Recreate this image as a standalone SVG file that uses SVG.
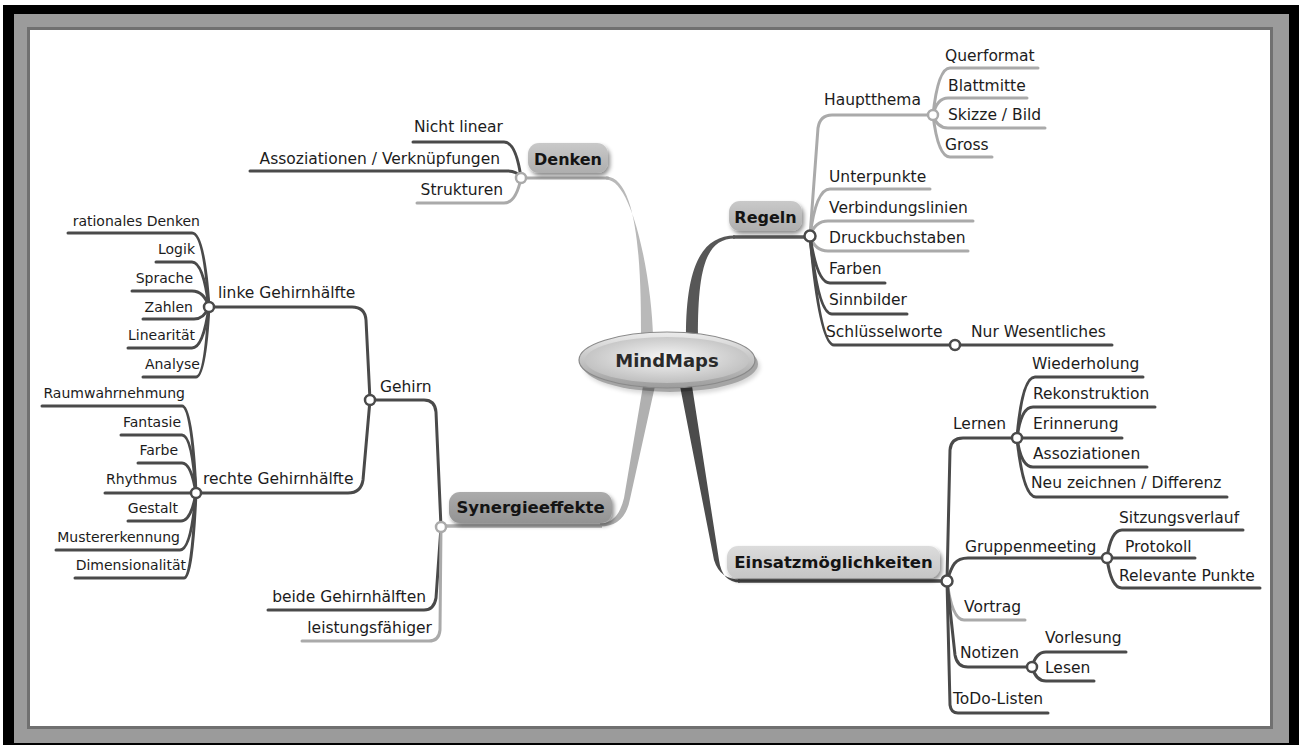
<svg xmlns="http://www.w3.org/2000/svg" width="1303" height="745" viewBox="0 0 1303 745">
<defs>
<style>
.t{font-family:"DejaVu Sans",Verdana,sans-serif;font-size:15.5px;fill:#1c1c1c}
.s{font-size:14px}
.e{text-anchor:end}
.m{text-anchor:middle}
.b{font-weight:bold;font-size:16.5px;fill:#141414}
.dk{fill:none;stroke:#4a4a4a;stroke-width:3;stroke-linecap:round}
.lt{fill:none;stroke:#aaaaaa;stroke-width:3;stroke-linecap:round}
.cd{fill:#fff;stroke:#4a4a4a;stroke-width:2.5}
.cl{fill:#fff;stroke:#aaaaaa;stroke-width:2.5}
.box{filter:url(#sh)}
</style>
<filter id="sh" x="-20%" y="-30%" width="140%" height="170%">
<feDropShadow dx="2" dy="3" stdDeviation="2" flood-color="#000" flood-opacity="0.45"/>
</filter>
<linearGradient id="gb" x1="0" y1="0" x2="0" y2="1">
<stop offset="0" stop-color="#c9c9c9"/><stop offset="1" stop-color="#aeaeae"/>
</linearGradient>
<linearGradient id="gs" x1="0" y1="0" x2="0" y2="1">
<stop offset="0" stop-color="#ababab"/><stop offset="1" stop-color="#939393"/>
</linearGradient>
<linearGradient id="ge" x1="0" y1="0" x2="0" y2="1">
<stop offset="0" stop-color="#dcdcdc"/><stop offset="1" stop-color="#c6c6c6"/>
</linearGradient>
<linearGradient id="rim" x1="0" y1="0" x2="0" y2="1">
<stop offset="0" stop-color="#ececec"/><stop offset="1" stop-color="#9c9c9c"/>
</linearGradient>
<radialGradient id="core" cx="0.5" cy="0.45" r="0.6">
<stop offset="0" stop-color="#f6f6f6"/><stop offset="1" stop-color="#bababa"/>
</radialGradient>
</defs>

<g id="frame">
<rect x="3" y="5" width="1296" height="745" fill="#000"/>
<rect x="14" y="14" width="1275" height="729" fill="#9b9b9b"/>
<rect x="28.5" y="28.5" width="1243" height="699" fill="#fff" stroke="#707070" stroke-width="3"/>
</g>

<g id="connectors">
<!-- main branches -->
<path d="M641,336 C641,280 640,177 606,176.5 L606,179.5 C634,179.5 652,285 653,336 Z" fill="#b9b9b9"/>
<path d="M521,178 H608" class="lt"/>
<path d="M686,336 C686,270 700,235.5 735,235.5 L735,238.5 C705,238.5 698,270 698,336 Z" fill="#575757"/>
<path d="M733,237 H810" fill="none" stroke="#575757" stroke-width="3.5"/>
<path d="M643,386 L624,498 Q618,523.5 600,523.5 L600,526.5 Q625,526.5 630,499 L655,386 Z" fill="#b0b0b0"/>
<path d="M602,526 H441" fill="none" stroke="#b0b0b0" stroke-width="3.5"/>
<path d="M680,386 L714,560 Q720,579.5 740,579.5 L740,582.5 Q722,582.5 719,560 L692,386 Z" fill="#4c4c4c"/>
<path d="M738,581 H947" fill="none" stroke="#4c4c4c" stroke-width="3.5"/>

<!-- Denken -->
<path d="M521,178 Q516,142 504,142 H413" class="dk"/>
<path d="M521,178 Q517,171 508,171 H250" class="dk"/>
<path d="M521,178 Q516,203 504,203 H417" class="lt"/>

<!-- Regeln -->
<path d="M810,236 L818,128 Q820,115 832,115 H933" class="lt"/>
<path d="M933,115 Q938,68 950,68 H1038" class="lt"/>
<path d="M933,115 Q937,98 948,98 H1027" class="lt"/>
<path d="M933,115 Q937,128 948,128 H1045" class="lt"/>
<path d="M933,115 Q938,157 950,157 H992" class="lt"/>
<path d="M810,236 Q816,189 830,189 H930" class="lt"/>
<path d="M810,236 Q815,221 828,221 H973" class="lt"/>
<path d="M810,236 Q815,251 828,251 H968" class="lt"/>
<path d="M810,236 Q817,283 830,283 H885" class="dk"/>
<path d="M810,236 Q818,314 832,314 H907" class="dk"/>
<path d="M810,236 Q820,345 834,345 H955" class="dk"/>
<path d="M955,345 H1112" class="dk"/>

<!-- Synergieeffekte -->
<path d="M441,527 L436,412 Q435,400 424,400 H370" class="dk"/>
<path d="M441,527 L436,598 Q434,610 424,610 H268" class="dk"/>
<path d="M441,527 L440,630 Q439,641 429,641 H302" class="lt"/>
<path d="M370,400 L366,320 Q365,307 352,307 H209" class="dk"/>
<path d="M370,400 L363,480 Q361,493 348,493 H196" class="dk"/>
<path d="M209,307 Q204,233 192,233 H68" class="dk"/>
<path d="M209,307 Q203,262 192,262 H156" class="dk"/>
<path d="M209,307 Q204,291 192,291 H132" class="dk"/>
<path d="M209,307 Q204,319 194,319 H143" class="dk"/>
<path d="M209,307 Q203,348 192,348 H128" class="dk"/>
<path d="M209,307 Q205,377 196,377 H143" class="dk"/>
<path d="M196,493 Q192,406 182,406 H42" class="dk"/>
<path d="M196,493 Q192,435 182,435 H121" class="dk"/>
<path d="M196,493 Q191,463 182,463 H138" class="dk"/>
<path d="M196,493 H105" class="dk"/>
<path d="M196,493 Q191,521 181,521 H128" class="dk"/>
<path d="M196,493 Q191,550 180,550 H56" class="dk"/>
<path d="M196,493 Q192,578 184,578 H75" class="dk"/>

<!-- Einsatzmoeglichkeiten -->
<path d="M947,581 L950,450 Q951,438 963,438 H1017" class="dk"/>
<path d="M1017,438 Q1022,377 1035,377 H1143" class="dk"/>
<path d="M1017,438 Q1021,407 1033,407 H1155" class="dk"/>
<path d="M1017,438 H1122" class="dk"/>
<path d="M1017,438 Q1021,467 1033,467 H1147" class="dk"/>
<path d="M1017,438 Q1023,497 1036,497 H1227" class="dk"/>
<path d="M947,581 C952,565 955,558 968,558 H1107" class="dk"/>
<path d="M1107,558 Q1111,530 1122,530 H1243" class="dk"/>
<path d="M1107,558 H1195" class="dk"/>
<path d="M1107,558 Q1111,588 1122,588 H1260" class="dk"/>
<path d="M947,581 Q952,620 964,620 H1025" class="lt"/>
<path d="M947,581 L955,655 Q957,667 968,667 H1032" class="dk"/>
<path d="M1032,667 Q1036,652 1046,652 H1126" class="dk"/>
<path d="M1032,667 Q1036,681 1046,681 H1094" class="dk"/>
<path d="M947,581 L950,705 Q951,713 958,713 H1048" class="dk"/>
</g>

<g id="node-mindmaps">
<ellipse cx="670" cy="364" rx="88" ry="28" fill="#000" opacity="0.35" filter="url(#sh)"/>
<ellipse cx="667" cy="360" rx="88" ry="28" fill="url(#rim)" stroke="#8a8a8a" stroke-width="1.2"/>
<ellipse cx="667" cy="360" rx="82" ry="23" fill="url(#core)"/>
<text x="667" y="367" class="t b m" style="font-size:18px;fill:#2a2a2a">MindMaps</text>
</g>

<g id="node-denken">
<rect x="528" y="143" width="80" height="30" rx="11" fill="url(#gb)" class="box"/>
<text x="568" y="165" class="t b m" style="font-size:16px">Denken</text>
</g>
<g id="node-regeln">
<rect x="729" y="201" width="73" height="30" rx="11" fill="url(#gb)" class="box"/>
<text x="765.5" y="223" class="t b m" style="font-size:16px">Regeln</text>
</g>
<g id="node-synergie">
<rect x="449" y="492" width="163" height="31" rx="11" fill="url(#gs)" class="box"/>
<text x="530.5" y="513" class="t b m">Synergieeffekte</text>
</g>
<g id="node-einsatz">
<rect x="727" y="546" width="213" height="32" rx="11" fill="url(#ge)" class="box"/>
<text x="833.5" y="568" class="t b m">Einsatzmöglichkeiten</text>
</g>

<g id="junctions">
<circle cx="521" cy="178" r="5" class="cl"/>
<circle cx="810" cy="236" r="5.5" class="cd"/>
<circle cx="933" cy="115" r="5" class="cl"/>
<circle cx="955" cy="345" r="5" class="cd"/>
<circle cx="441" cy="527" r="5" class="cl"/>
<circle cx="370" cy="400" r="5" class="cd"/>
<circle cx="209" cy="307" r="5" class="cd"/>
<circle cx="196" cy="493" r="5" class="cd"/>
<circle cx="947" cy="581" r="5.5" class="cd"/>
<circle cx="1017" cy="438" r="5" class="cd"/>
<circle cx="1107" cy="558" r="5" class="cd"/>
<circle cx="1032" cy="667" r="5" class="cd"/>
</g>

<g id="denken-children">
<text x="503" y="132" class="t e">Nicht linear</text>
<text x="500" y="164" class="t e">Assoziationen / Verknüpfungen</text>
<text x="503" y="195" class="t e">Strukturen</text>
</g>

<g id="regeln-children">
<text x="824" y="105" class="t">Hauptthema</text>
<text x="945" y="61" class="t">Querformat</text>
<text x="948" y="91" class="t">Blattmitte</text>
<text x="948" y="120" class="t">Skizze / Bild</text>
<text x="945" y="150" class="t">Gross</text>
<text x="829" y="182" class="t">Unterpunkte</text>
<text x="829" y="213" class="t">Verbindungslinien</text>
<text x="829" y="243" class="t">Druckbuchstaben</text>
<text x="829" y="274" class="t">Farben</text>
<text x="829" y="305" class="t">Sinnbilder</text>
<text x="826" y="337" class="t">Schlüsselworte</text>
<text x="971" y="337" class="t">Nur Wesentliches</text>
</g>

<g id="synergie-children">
<text x="380" y="392" class="t">Gehirn</text>
<text x="426" y="602" class="t e">beide Gehirnhälften</text>
<text x="432" y="633" class="t e">leistungsfähiger</text>
<text x="218" y="298" class="t">linke Gehirnhälfte</text>
<text x="203" y="484" class="t">rechte Gehirnhälfte</text>
<text x="200" y="226" class="t s e">rationales Denken</text>
<text x="195" y="254" class="t s e">Logik</text>
<text x="193" y="283" class="t s e">Sprache</text>
<text x="193" y="312" class="t s e">Zahlen</text>
<text x="195" y="340" class="t s e">Linearität</text>
<text x="200" y="369" class="t s e">Analyse</text>
<text x="185" y="398" class="t s e">Raumwahrnehmung</text>
<text x="181" y="427" class="t s e">Fantasie</text>
<text x="178" y="455" class="t s e">Farbe</text>
<text x="177" y="484" class="t s e">Rhythmus</text>
<text x="178" y="513" class="t s e">Gestalt</text>
<text x="180" y="542" class="t s e">Mustererkennung</text>
<text x="186" y="570" class="t s e">Dimensionalität</text>
</g>

<g id="einsatz-children">
<text x="953" y="429" class="t">Lernen</text>
<text x="1032" y="369" class="t">Wiederholung</text>
<text x="1033" y="399" class="t">Rekonstruktion</text>
<text x="1033" y="429" class="t">Erinnerung</text>
<text x="1033" y="459" class="t">Assoziationen</text>
<text x="1031" y="488" class="t">Neu zeichnen / Differenz</text>
<text x="965" y="552" class="t">Gruppenmeeting</text>
<text x="1119" y="523" class="t">Sitzungsverlauf</text>
<text x="1125" y="552" class="t">Protokoll</text>
<text x="1119" y="581" class="t">Relevante Punkte</text>
<text x="964" y="612" class="t">Vortrag</text>
<text x="960" y="658" class="t">Notizen</text>
<text x="1045" y="643" class="t">Vorlesung</text>
<text x="1045" y="673" class="t">Lesen</text>
<text x="953" y="704" class="t">ToDo-Listen</text>
</g>
</svg>
